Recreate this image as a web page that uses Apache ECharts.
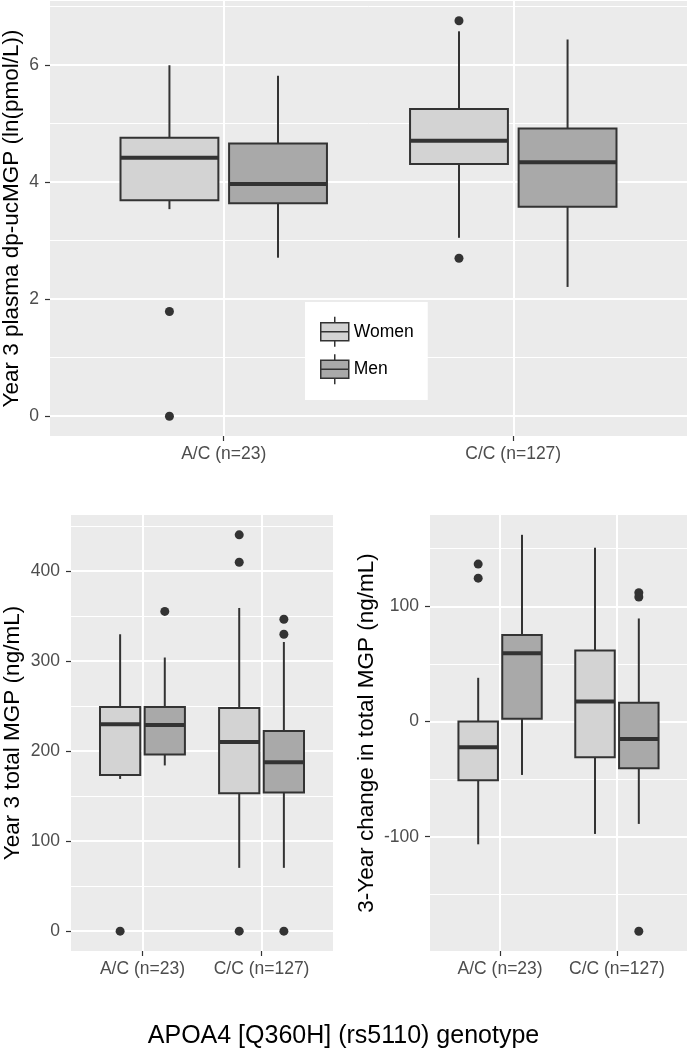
<!DOCTYPE html>
<html>
<head>
<meta charset="utf-8">
<script src="https://cdn.jsdelivr.net/npm/echarts@6/dist/echarts.min.js"></script>
<style>
html,body{margin:0;padding:0;background:#fff;}
#chart{width:687px;height:1050px;}
</style>
</head>
<body>
<div id="chart"></div>
<script>
// ---------- DATA ----------
const genotypes = ['A/C (n=23)', 'C/C (n=127)'];
const sexes = ['Women', 'Men'];

// each box: [lower whisker, Q1, median, Q3, upper whisker], one per genotype
// Panel 1: Year 3 plasma dp-ucMGP (ln(pmol/L))
const ucmgpWomen = [[3.54, 3.69, 4.42, 4.76, 6.00], [3.05, 4.31, 4.71, 5.25, 6.58]];
const ucmgpMen   = [[2.71, 3.64, 3.97, 4.66, 5.82], [2.21, 3.58, 4.34, 4.92, 6.44]];
const ucmgpWomenOut = [[1.79, 0], [6.76, 2.70]];
const ucmgpMenOut   = [[], []];
const ucmgpTicks = [0, 2, 4, 6];
const ucmgpMinor = [1, 3, 5, 7];

// Panel 2: Year 3 total MGP (ng/mL)
const totalWomen = [[169, 173.5, 229.7, 249, 329.6], [70.3, 153, 210, 247.8, 358.8]];
const totalMen   = [[184, 196, 229, 249, 303.8], [70.3, 154, 187.6, 222.3, 321]];
const totalWomenOut = [[0], [440, 409.5, 0]];
const totalMenOut   = [[355], [346.3, 329.6, 0]];
const totalTicks = [0, 100, 200, 300, 400];
const totalMinor = [50, 150, 250, 350, 450];

// Panel 3: 3-Year change in total MGP (ng/mL)
const changeWomen = [[-106.6, -51, -22.3, 0, 37.9], [-97.6, -31, 17.4, 61.7, 150.8]];
const changeMen   = [[-46.4, 2.3, 59.3, 75, 162], [-88.9, -40.6, -15.1, 16.2, 89.4]];
const changeWomenOut = [[136.6, 124.4], []];
const changeMenOut   = [[], [111.7, 108, -182.1]];
const changeTicks = [-100, 0, 100];
const changeMinor = [-150, -50, 50, 150];

// ---------- STYLE / LAYOUT ----------
const FILL = { Women: '#D3D3D3', Men: '#A9A9A9' };
const DODGE = { Women: -0.1875, Men: 0.1875 };
const HALF = 0.169;
const LINE = '#333333';
const FONT = 'Liberation Sans, Arial, sans-serif';

const panels = [
  { grid: { left: 50, top: 1, width: 637, height: 435 }, range: [-0.338, 7.098],
    ticks: ucmgpTicks, minor: ucmgpMinor, title: 'Year 3 plasma dp-ucMGP (ln(pmol/L))', nameGap: 27,
    boxes: { Women: ucmgpWomen, Men: ucmgpMen }, outs: { Women: ucmgpWomenOut, Men: ucmgpMenOut } },
  { grid: { left: 71, top: 515, width: 262, height: 436 }, range: [-22, 462],
    ticks: totalTicks, minor: totalMinor, title: 'Year 3 total MGP (ng/mL)', nameGap: 47,
    boxes: { Women: totalWomen, Men: totalMen }, outs: { Women: totalWomenOut, Men: totalMenOut } },
  { grid: { left: 430, top: 515, width: 257, height: 436 }, range: [-199.2, 179.2],
    ticks: changeTicks, minor: changeMinor, title: '3-Year change in total MGP (ng/mL)', nameGap: 52,
    boxes: { Women: changeWomen, Men: changeMen }, outs: { Women: changeWomenOut, Men: changeMenOut } }
];

function boxRenderer(sex) {
  return function (params, api) {
    const x = api.value(0) + DODGE[sex];
    const lo = api.coord([x, api.value(1)]);
    const q1l = api.coord([x - HALF, api.value(2)]);
    const q1r = api.coord([x + HALF, api.value(2)]);
    const medl = api.coord([x - HALF, api.value(3)]);
    const medr = api.coord([x + HALF, api.value(3)]);
    const q3 = api.coord([x - HALF, api.value(4)]);
    const hi = api.coord([x, api.value(5)]);
    const ls = { stroke: LINE, lineWidth: 2 };
    return {
      type: 'group',
      children: [
        { type: 'line', shape: { x1: lo[0], y1: lo[1], x2: lo[0], y2: q1l[1] }, style: ls },
        { type: 'line', shape: { x1: hi[0], y1: hi[1], x2: hi[0], y2: q3[1] }, style: ls },
        { type: 'rect', shape: { x: q1l[0], y: q3[1], width: q1r[0] - q1l[0], height: q1l[1] - q3[1] },
          style: { fill: FILL[sex], stroke: LINE, lineWidth: 2 } },
        { type: 'line', shape: { x1: medl[0], y1: medl[1], x2: medr[0], y2: medr[1] },
          style: { stroke: LINE, lineWidth: 4 } }
      ]
    };
  };
}

const grids = [], xAxes = [], yAxes = [], series = [];
panels.forEach(function (p, i) {
  grids.push(Object.assign({ show: true, backgroundColor: '#EBEBEB', borderWidth: 0,
    containLabel: false, outerBoundsMode: 'none' }, p.grid));
  xAxes.push({
    type: 'value', gridIndex: i, min: -0.6, max: 1.6, position: 'bottom',
    axisLine: { show: false, onZero: false },
    axisTick: { show: true, customValues: [0, 1], length: 5, lineStyle: { color: LINE, width: 1.2 } },
    axisLabel: { customValues: [0, 1], formatter: function (v) { return genotypes[Math.round(v)]; },
      fontSize: 17.5, color: '#4D4D4D', fontFamily: FONT, margin: 9 },
    splitLine: { show: true, lineStyle: { color: '#FFFFFF', width: 2 } }
  });
  yAxes.push({
    type: 'value', gridIndex: i, min: p.range[0], max: p.range[1], position: 'left',
    axisLine: { show: false, onZero: false },
    axisTick: { show: true, customValues: p.ticks, length: 5, lineStyle: { color: LINE, width: 1.2 } },
    axisLabel: { customValues: p.ticks, fontSize: 17.5, color: '#4D4D4D', fontFamily: FONT, margin: 11 },
    splitLine: { show: true, lineStyle: { color: '#FFFFFF', width: 2 } },
    name: p.title, nameLocation: 'middle', nameRotate: 90, nameGap: p.nameGap,
    nameMoveOverlap: false,
    nameTextStyle: { fontSize: 22.5, color: '#000000', fontFamily: FONT }
  });
  yAxes.push({
    type: 'value', gridIndex: i, min: p.range[0], max: p.range[1], position: 'left',
    axisLine: { show: false, onZero: false },
    axisTick: { show: false, customValues: p.minor },
    axisLabel: { show: false, customValues: p.minor },
    splitLine: { show: true, lineStyle: { color: '#FFFFFF', width: 1 } }
  });
  sexes.forEach(function (sex) {
    series.push({
      type: 'custom', name: sex, xAxisIndex: i, yAxisIndex: 2 * i,
      renderItem: boxRenderer(sex),
      itemStyle: { color: FILL[sex] },
      encode: { x: 0, y: [1, 2, 3, 4, 5] },
      data: p.boxes[sex].map(function (b, ci) { return [ci].concat(b); }),
      z: 3
    });
    const pts = [];
    p.outs[sex].forEach(function (vals, ci) {
      vals.forEach(function (v) { pts.push([ci + DODGE[sex], v]); });
    });
    series.push({
      type: 'scatter', name: sex, xAxisIndex: i, yAxisIndex: 2 * i,
      symbol: 'circle', symbolSize: 9,
      itemStyle: { color: LINE, opacity: 1 },
      emphasis: { disabled: true },
      data: pts, z: 4
    });
  });
});

const boxIcon = 'path://M14,0 V6 M14,24 V30 M0,6 H28 V24 H0 Z M0,15 H28';

const option = {
  animation: false,
  backgroundColor: '#FFFFFF',
  textStyle: { fontFamily: FONT },
  title: {
    text: 'APOA4 [Q360H] (rs5110) genotype',
    left: 'center', top: 1019,
    textStyle: { fontSize: 25, fontWeight: 'normal', color: '#000000', fontFamily: FONT }
  },
  legend: {
    orient: 'vertical', left: 305, top: 302,
    backgroundColor: '#FFFFFF',
    padding: [14, 14, 15, 15],
    itemWidth: 28, itemHeight: 30, itemGap: 6,
    selectedMode: false,
    textStyle: { fontSize: 17.5, color: '#000000', fontFamily: FONT },
    data: sexes.map(function (s) {
      return { name: s, icon: boxIcon, itemStyle: { color: FILL[s], borderColor: LINE, borderWidth: 1.5 } };
    })
  },
  grid: grids,
  xAxis: xAxes,
  yAxis: yAxes,
  series: series
};

const chart = echarts.init(document.getElementById('chart'), null, { renderer: 'canvas' });
chart.setOption(option);
</script>
</body>
</html>
